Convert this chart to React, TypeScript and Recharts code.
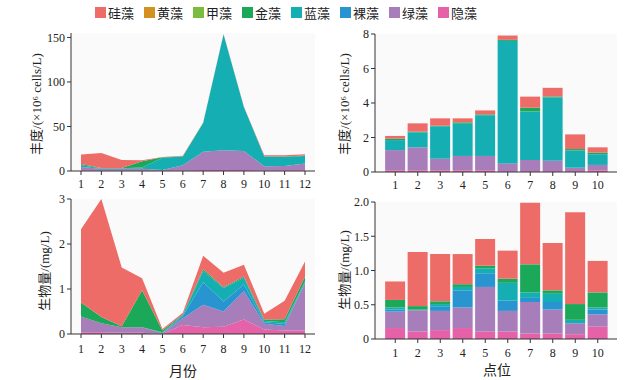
import React from 'react';
import { AreaChart, Area, BarChart, Bar, XAxis, YAxis, CartesianGrid } from 'recharts';

// ---------- categories ----------
const species = ['硅藻', '黄藻', '甲藻', '金藻', '蓝藻', '裸藻', '绿藻', '隐藻'];
const colors = ['#EE6C68', '#D4911F', '#7ABD3E', '#1BA858', '#14AEB3', '#2894D0', '#A77DBA', '#E561A8'];
const months = ['1', '2', '3', '4', '5', '6', '7', '8', '9', '10', '11', '12'];
const sites = ['1', '2', '3', '4', '5', '6', '7', '8', '9', '10'];

// ---------- abundance by month (×10^6 cells/L) ----------
const abM_gui = [10.5, 17, 9, 1.2, 0.3, 0.5, 0.3, 0.3, 0.3, 1, 1.5, 1.5];
const abM_huang = [0, 0, 0, 0, 0, 0, 0, 0, 0, 0, 0, 0];
const abM_jia = [0, 0, 0, 0, 0, 0, 0, 0, 0, 0, 0, 0];
const abM_jin = [1.5, 0.3, 0.3, 7, 0.5, 0.3, 0.3, 0.3, 0.3, 0.4, 0.5, 0.5];
const abM_lan = [2, 0.5, 0.5, 1.5, 14, 10, 32.5, 130, 49, 11, 10.2, 8.5];
const abM_luo = [0, 0, 0, 0, 0, 0, 0, 0, 0, 0, 0, 0];
const abM_lv = [4, 2.2, 2.2, 2.2, 0.8, 5.8, 20.5, 22, 21.5, 4.8, 5, 7.5];
const abM_yin = [0.5, 0.3, 0.3, 0.3, 0.2, 0.6, 1, 1.2, 1, 0.5, 0.5, 0.8];

// ---------- abundance by site (×10^6 cells/L) ----------
const abS_gui = [0.16, 0.48, 0.43, 0.23, 0.23, 0.25, 0.64, 0.5, 0.85, 0.31];
const abS_huang = [0, 0, 0, 0, 0, 0, 0, 0, 0, 0];
const abS_jia = [0, 0, 0, 0, 0, 0, 0, 0, 0, 0];
const abS_jin = [0.08, 0.04, 0.03, 0.08, 0.05, 0.06, 0.23, 0.06, 0.08, 0.09];
const abS_lan = [0.58, 0.87, 1.88, 1.87, 2.36, 7.1, 2.8, 3.67, 1.0, 0.62];
const abS_luo = [0, 0, 0, 0, 0, 0, 0, 0, 0, 0];
const abS_lv = [1.17, 1.33, 0.67, 0.83, 0.83, 0.45, 0.65, 0.6, 0.2, 0.31];
const abS_yin = [0.1, 0.1, 0.1, 0.1, 0.1, 0.05, 0.05, 0.05, 0.05, 0.1];

// ---------- biomass by month (mg/L) ----------
const bmM_gui = [1.63, 2.62, 1.31, 0.27, 0.03, 0.03, 0.3, 0.32, 0.26, 0.13, 0.41, 0.34];
const bmM_huang = [0, 0, 0, 0, 0, 0, 0, 0, 0, 0, 0, 0];
const bmM_jia = [0, 0, 0, 0, 0, 0, 0, 0, 0, 0, 0, 0];
const bmM_jin = [0.31, 0.14, 0.02, 0.82, 0.04, 0.02, 0.04, 0.02, 0.03, 0.03, 0.07, 0.1];
const bmM_lan = [0, 0, 0, 0, 0.02, 0.02, 0.25, 0.3, 0.15, 0.03, 0.04, 0.03];
const bmM_luo = [0, 0, 0, 0, 0, 0.05, 0.5, 0.22, 0.15, 0.03, 0.04, 0.01];
const bmM_lv = [0.35, 0.2, 0.12, 0.12, 0.02, 0.15, 0.5, 0.34, 0.63, 0.13, 0.1, 1.05];
const bmM_yin = [0.04, 0.04, 0.03, 0.03, 0, 0.2, 0.15, 0.16, 0.32, 0.1, 0.08, 0.08];

// ---------- biomass by site (mg/L) ----------
const bmS_gui = [0.27, 0.79, 0.69, 0.44, 0.39, 0.41, 0.9, 0.69, 1.34, 0.46];
const bmS_huang = [0, 0, 0, 0, 0, 0, 0, 0, 0, 0];
const bmS_jia = [0, 0, 0, 0, 0, 0, 0, 0, 0, 0];
const bmS_jin = [0.11, 0.05, 0.04, 0.04, 0.04, 0.06, 0.41, 0.05, 0.23, 0.22];
const bmS_lan = [0.03, 0.01, 0.04, 0.05, 0.07, 0.26, 0.08, 0.12, 0.05, 0.03];
const bmS_luo = [0.03, 0, 0.06, 0.25, 0.2, 0.15, 0.06, 0.11, 0, 0.07];
const bmS_lv = [0.24, 0.31, 0.28, 0.3, 0.65, 0.3, 0.46, 0.35, 0.16, 0.18];
const bmS_yin = [0.16, 0.11, 0.13, 0.16, 0.11, 0.11, 0.08, 0.08, 0.07, 0.18];

// ---------- tick labels ----------
const abMTicks = [0, 50, 100, 150];
const abSTicks = [0, 2, 4, 6, 8];
const bmMTicks = [0, 1, 2, 3];
const bmSTicks = [0, 0.5, 1.0, 1.5, 2.0];

function buildRows(cats: string[], series: number[][]) {
  return cats.map((c, i) => {
    const r: any = { name: c };
    species.forEach((s, j) => {
      r[s] = series[j][i];
    });
    return r;
  });
}

const abMRows = buildRows(months, [abM_gui, abM_huang, abM_jia, abM_jin, abM_lan, abM_luo, abM_lv, abM_yin]);
const abSRows = buildRows(sites, [abS_gui, abS_huang, abS_jia, abS_jin, abS_lan, abS_luo, abS_lv, abS_yin]);
const bmMRows = buildRows(months, [bmM_gui, bmM_huang, bmM_jia, bmM_jin, bmM_lan, bmM_luo, bmM_lv, bmM_yin]);
const bmSRows = buildRows(sites, [bmS_gui, bmS_huang, bmS_jia, bmS_jin, bmS_lan, bmS_luo, bmS_lv, bmS_yin]);

// stack bottom-up: reverse legend order
const stackOrder = species.map((s, i) => ({ s, c: colors[i] })).reverse();

const FONT = "'Liberation Serif', 'Times New Roman', 'Noto Sans CJK SC', serif";
const tickStyle = { fill: '#222', fontSize: 12, fontFamily: FONT };
const axisCommon: any = {
  stroke: '#333',
  tick: tickStyle,
  tickLine: { stroke: '#333' },
  tickSize: 4,
};

function VLabel({ x, y, text }: { x: number; y: number; text: string }) {
  return (
    <div
      style={{
        position: 'absolute',
        left: x,
        top: y,
        transform: 'translate(-50%, -50%) rotate(-90deg)',
        whiteSpace: 'nowrap',
        fontSize: 13,
        fontFamily: FONT,
        color: '#222',
      }}
    >
      {text}
    </div>
  );
}

function HLabel({ x, y, text }: { x: number; y: number; text: string }) {
  return (
    <div
      style={{
        position: 'absolute',
        left: x,
        top: y,
        transform: 'translate(-50%, -50%)',
        whiteSpace: 'nowrap',
        fontSize: 14,
        fontFamily: FONT,
        color: '#222',
      }}
    >
      {text}
    </div>
  );
}

export default function App() {
  return (
    <div
      style={{
        position: 'absolute',
        left: 0,
        top: 0,
        width: 636,
        height: 380,
        background: '#fff',
        fontFamily: FONT,
        overflow: 'hidden',
      }}
    >
      {/* legend */}
      <div
        style={{
          position: 'absolute',
          top: 3,
          left: 95,
          display: 'flex',
          alignItems: 'center',
          fontSize: 13,
          fontFamily: FONT,
          color: '#222',
        }}
      >
        {species.map((s, i) => (
          <div key={s} style={{ display: 'flex', alignItems: 'center', marginRight: 10 }}>
            <div style={{ width: 11, height: 11, background: colors[i], marginRight: 2 }} />
            <span>{s}</span>
          </div>
        ))}
      </div>

      {/* top-left: abundance by month */}
      <div style={{ position: 'absolute', left: 0, top: 0 }}>
        <AreaChart width={330} height={195} data={abMRows} margin={{ top: 33, right: 15, bottom: 0, left: 0 }} style={{ fontFamily: FONT }}>
          <CartesianGrid horizontal={false} vertical={false} fill="#fafafa" />
          <XAxis dataKey="name" {...axisCommon} padding={{ left: 10, right: 10 }} height={24} tickMargin={4} interval={0} />
          <YAxis {...axisCommon} width={71} domain={[0, 155]} ticks={abMTicks} tickMargin={2} interval={0} />
          {stackOrder.map(({ s, c }) => (
            <Area
              key={s}
              dataKey={s}
              stackId="a"
              type="linear"
              stroke="none"
              fill={c}
              fillOpacity={1}
              isAnimationActive={false}
              dot={false}
              activeDot={false}
            />
          ))}
        </AreaChart>
      </div>

      {/* top-right: abundance by site */}
      <div style={{ position: 'absolute', left: 330, top: 0 }}>
        <BarChart
          width={300}
          height={196}
          data={abSRows}
          margin={{ top: 34, right: 13, bottom: 0, left: 0 }}
          barCategoryGap="5%"
          style={{ fontFamily: FONT }}
        >
          <CartesianGrid horizontal={false} vertical={false} fill="#fafafa" />
          <XAxis dataKey="name" {...axisCommon} padding={{ left: 9, right: 8 }} height={24} tickMargin={4} interval={0} />
          <YAxis {...axisCommon} width={45} domain={[0, 8]} ticks={abSTicks} tickMargin={2} interval={0} />
          {stackOrder.map(({ s, c }) => (
            <Bar key={s} dataKey={s} stackId="a" fill={c} isAnimationActive={false} />
          ))}
        </BarChart>
      </div>

      {/* bottom-left: biomass by month */}
      <div style={{ position: 'absolute', left: 0, top: 190 }}>
        <AreaChart width={330} height={190} data={bmMRows} margin={{ top: 9, right: 15, bottom: 0, left: 0 }} style={{ fontFamily: FONT }}>
          <CartesianGrid horizontal={false} vertical={false} fill="#fafafa" />
          <XAxis dataKey="name" {...axisCommon} padding={{ left: 10, right: 10 }} height={46} tickMargin={6} interval={0} />
          <YAxis {...axisCommon} width={71} domain={[0, 3]} ticks={bmMTicks} tickMargin={2} interval={0} />
          {stackOrder.map(({ s, c }) => (
            <Area
              key={s}
              dataKey={s}
              stackId="a"
              type="linear"
              stroke="none"
              fill={c}
              fillOpacity={1}
              isAnimationActive={false}
              dot={false}
              activeDot={false}
            />
          ))}
        </AreaChart>
      </div>

      {/* bottom-right: biomass by site */}
      <div style={{ position: 'absolute', left: 330, top: 190 }}>
        <BarChart
          width={300}
          height={190}
          data={bmSRows}
          margin={{ top: 12, right: 13, bottom: 0, left: 0 }}
          barCategoryGap="5%"
          style={{ fontFamily: FONT }}
        >
          <CartesianGrid horizontal={false} vertical={false} fill="#fafafa" />
          <XAxis dataKey="name" {...axisCommon} padding={{ left: 9, right: 8 }} height={41} tickMargin={5} interval={0} />
          <YAxis
            {...axisCommon}
            width={45}
            domain={[0, 2]}
            ticks={bmSTicks}
            tickMargin={2}
            interval={0}
            tickFormatter={(v: number) => (v === 0 ? '0' : v.toFixed(1))}
          />
          {stackOrder.map(({ s, c }) => (
            <Bar key={s} dataKey={s} stackId="a" fill={c} isAnimationActive={false} />
          ))}
        </BarChart>
      </div>

      {/* axis titles */}
      <VLabel x={35} y={104} text="丰度/(×10⁶ cells/L)" />
      <VLabel x={343} y={104} text="丰度/(×10⁶ cells/L)" />
      <VLabel x={43} y={271} text="生物量/(mg/L)" />
      <VLabel x={343} y={270} text="生物量/(mg/L)" />
      <HLabel x={183} y={370} text="月份" />
      <HLabel x={497} y={369} text="点位" />
    </div>
  );
}
